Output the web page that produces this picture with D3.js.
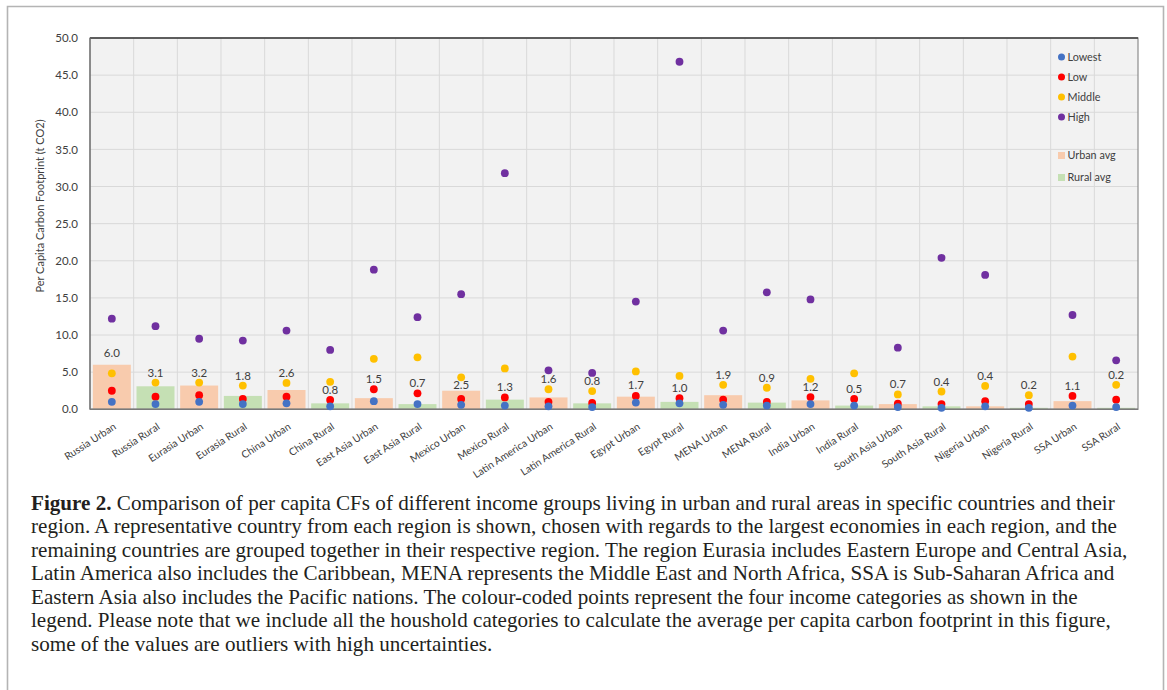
<!DOCTYPE html>
<html>
<head>
<meta charset="utf-8">
<script src="https://cdn.jsdelivr.net/npm/d3@7"></script>
<style>
  html, body { margin: 0; padding: 0; background: #ffffff; }
  svg { display: block; }
  .chart-text { font-family: Lato, "Open Sans", sans-serif; fill: #404040; }
  .caption { font-family: "Liberation Serif", "Times New Roman", serif; fill: #231f20; }
</style>
</head>
<body>
<svg id="fig" width="1167" height="690"></svg>
<script>
// Regions split into urban / rural households
const categories = [
  "Russia Urban", "Russia Rural", "Eurasia Urban", "Eurasia Rural",
  "China Urban", "China Rural", "East Asia Urban", "East Asia Rural",
  "Mexico Urban", "Mexico Rural", "Latin America Urban", "Latin America Rural",
  "Egypt Urban", "Egypt Rural", "MENA Urban", "MENA Rural",
  "India Urban", "India Rural", "South Asia Urban", "South Asia Rural",
  "Nigeria Urban", "Nigeria Rural", "SSA Urban", "SSA Rural"
];

// Average per capita carbon footprint (t CO2)
const avgValues = [6.0, 3.1, 3.2, 1.8, 2.6, 0.8, 1.5, 0.7, 2.5, 1.3, 1.6, 0.8,
                   1.7, 1.0, 1.9, 0.9, 1.2, 0.5, 0.7, 0.4, 0.4, 0.2, 1.1, 0.2];

// Per capita carbon footprint by income group (t CO2)
const lowestValues = [1.0, 0.7, 1.0, 0.7, 0.8, 0.4, 1.1, 0.7, 0.6, 0.5, 0.4, 0.3,
                      0.9, 0.8, 0.6, 0.5, 0.7, 0.5, 0.3, 0.2, 0.4, 0.2, 0.5, 0.3];
const lowValues = [2.5, 1.7, 1.9, 1.4, 1.7, 1.25, 2.7, 2.15, 1.4, 1.6, 1.0, 0.85,
                   1.8, 1.5, 1.3, 1.0, 1.65, 1.4, 0.75, 0.7, 1.1, 0.7, 1.8, 1.3];
const middleValues = [4.85, 3.6, 3.6, 3.2, 3.55, 3.7, 6.8, 7.0, 4.3, 5.5, 2.7, 2.45,
                      5.1, 4.5, 3.3, 2.9, 4.1, 4.85, 2.0, 2.4, 3.15, 1.9, 7.1, 3.3];
const highValues = [12.2, 11.2, 9.5, 9.25, 10.6, 8.0, 18.8, 12.4, 15.5, 31.8, 5.25, 4.9,
                    14.5, 46.8, 10.6, 15.75, 14.8, null, 8.3, 20.4, 18.1, null, 12.7, 6.6];

const yTicks = [0, 5, 10, 15, 20, 25, 30, 35, 40, 45, 50];

const incomeGroups = ["Lowest", "Low", "Middle", "High"];
const incomeSeries = { Lowest: lowestValues, Low: lowValues, Middle: middleValues, High: highValues };
const incomeColor = { Lowest: "#4472C4", Low: "#FF0000", Middle: "#FFC000", High: "#7030A0" };
const areaColor = { Urban: "#F8CBAD", Rural: "#C5E0B4" };

const captionLines = [
  " Comparison of per capita CFs of different income groups living in urban and rural areas in specific countries and their",
  "region. A representative country from each region is shown, chosen with regards to the largest economies in each region, and the",
  "remaining countries are grouped together in their respective region. The region Eurasia includes Eastern Europe and Central Asia,",
  "Latin America also includes the Caribbean, MENA represents the Middle East and North Africa, SSA is Sub-Saharan Africa and",
  "Eastern Asia also includes the Pacific nations. The colour-coded points represent the four income categories as shown in the",
  "legend. Please note that we include all the houshold categories to calculate the average per capita carbon footprint in this figure,",
  "some of the values are outliers with high uncertainties."
];

const svg = d3.select("#fig");

// Figure frame
svg.append("path")
  .attr("d", "M7.5,690 V6.5 H1163.5 V690")
  .attr("fill", "none").attr("stroke", "#b4b4b4").attr("stroke-width", 1.6);

const plot = { left: 90, right: 1138, top: 38, bottom: 409.3 };

const x = d3.scaleBand().domain(categories)
  .range([plot.left, plot.right]).paddingInner(0.13).paddingOuter(0.065);
const y = d3.scaleLinear().domain([0, 50]).range([plot.bottom, plot.top]);

const rows = categories.map((c, i) => ({
  name: c, i,
  area: c.endsWith("Urban") ? "Urban" : "Rural",
  avg: avgValues[i]
}));

// Plot background
svg.append("rect")
  .attr("x", plot.left).attr("y", plot.top)
  .attr("width", plot.right - plot.left).attr("height", plot.bottom - plot.top)
  .attr("fill", "#F2F2F2");

// Gridlines
const grid = svg.append("g").attr("stroke", "#D9D9D9").attr("stroke-width", 1);
grid.selectAll("line.h").data(yTicks.slice(1, -1)).join("line")
  .attr("x1", plot.left).attr("x2", plot.right)
  .attr("y1", d => y(d)).attr("y2", d => y(d));
grid.selectAll("line.v").data(d3.range(1, categories.length)).join("line")
  .attr("x1", d => plot.left + d * x.step()).attr("x2", d => plot.left + d * x.step())
  .attr("y1", plot.top).attr("y2", plot.bottom);

// Average bars
svg.append("g").selectAll("rect").data(rows).join("rect")
  .attr("x", d => x(d.name)).attr("width", x.bandwidth())
  .attr("y", d => y(d.avg)).attr("height", d => y(0) - y(d.avg))
  .attr("fill", d => areaColor[d.area]);

// Frame of the plot area
svg.append("rect")
  .attr("x", plot.left).attr("y", plot.top)
  .attr("width", plot.right - plot.left).attr("height", plot.bottom - plot.top)
  .attr("fill", "none").attr("stroke", "#8c8c8c").attr("stroke-width", 1.2);
svg.append("line")
  .attr("x1", plot.left).attr("x2", plot.right).attr("y1", plot.top).attr("y2", plot.top)
  .attr("stroke", "#404040").attr("stroke-width", 1.5);
svg.append("line")
  .attr("x1", plot.left).attr("x2", plot.left).attr("y1", plot.top).attr("y2", plot.bottom)
  .attr("stroke", "#6e6e6e").attr("stroke-width", 1.2);
svg.append("line")
  .attr("x1", plot.left).attr("x2", plot.right).attr("y1", plot.bottom).attr("y2", plot.bottom)
  .attr("stroke", "#7a7a7a").attr("stroke-width", 1.5);

// Income group points (highest drawn first, lowest on top)
const dotR = 3.9;
const dotsG = svg.append("g");
incomeGroups.slice().reverse().forEach(g => {
  const pts = rows.filter(d => incomeSeries[g][d.i] != null)
    .map(d => ({ name: d.name, v: incomeSeries[g][d.i] }));
  dotsG.append("g").selectAll("circle").data(pts).join("circle")
    .attr("cx", d => x(d.name) + x.bandwidth() / 2)
    .attr("cy", d => y(d.v))
    .attr("r", dotR)
    .attr("fill", incomeColor[g]);
});

// Average value labels: just above the bar, moved to the nearest spot clear of the points
function labelCentre(d) {
  const top = y(d.avg);
  const c0 = top - 12;
  const clearAbove = 10, clearBelow = 8;
  const ys = incomeGroups.map(g => incomeSeries[g][d.i]).filter(v => v != null).map(v => y(v));
  const isFree = c => c <= top - 4 &&
    ys.every(py => c <= py - clearAbove + 1e-6 || c >= py + clearBelow - 1e-6);
  if (isFree(c0)) return c0;
  const candidates = ys.flatMap(py => [py - clearAbove, py + clearBelow]).filter(isFree);
  return d3.least(candidates, c => Math.abs(c - c0));
}
svg.append("g").selectAll("text").data(rows).join("text")
  .attr("class", "chart-text")
  .attr("x", d => x(d.name) + x.bandwidth() / 2)
  .attr("y", d => labelCentre(d))
  .attr("dy", "0.35em")
  .attr("text-anchor", "middle")
  .style("font-size", "11.5px")
  .text(d => d3.format(".1f")(d.avg));

// Y axis
const yAxis = svg.append("g")
  .attr("transform", `translate(${plot.left},0)`)
  .call(d3.axisLeft(y).tickValues(yTicks).tickFormat(d3.format(".1f")).tickSize(0).tickPadding(12));
yAxis.select(".domain").remove();
yAxis.selectAll("text").attr("class", "chart-text").style("font-size", "11.5px").attr("fill", null);

svg.append("text")
  .attr("class", "chart-text")
  .attr("transform", `translate(44,206) rotate(-90)`)
  .attr("text-anchor", "middle")
  .style("font-size", "11px")
  .text("Per Capita Carbon Footprint (t CO2)");

// X axis labels
const xAxis = svg.append("g")
  .attr("transform", `translate(0,${plot.bottom})`)
  .call(d3.axisBottom(x).tickSize(0).tickPadding(0));
xAxis.select(".domain").remove();
xAxis.selectAll("text")
  .attr("class", "chart-text").attr("fill", null)
  .style("font-size", "10.3px")
  .attr("text-anchor", "end")
  .attr("y", 0).attr("dy", "0.35em")
  .attr("transform", "translate(3,16) rotate(-33)");

// Legend
const legend = svg.append("g").attr("class", "legend");
incomeGroups.forEach((g, k) => {
  const cy = 57 + k * 20;
  legend.append("circle").attr("cx", 1061.5).attr("cy", cy).attr("r", 3.5).attr("fill", incomeColor[g]);
  legend.append("text").attr("class", "chart-text").attr("x", 1067.5).attr("y", cy)
    .attr("dy", "0.35em").style("font-size", "10.8px").text(g);
});
[["Urban", "Urban avg", 155.5], ["Rural", "Rural avg", 177.5]].forEach(([a, label, cy]) => {
  legend.append("rect").attr("x", 1058).attr("y", cy - 3.5).attr("width", 7).attr("height", 7)
    .attr("fill", areaColor[a]);
  legend.append("text").attr("class", "chart-text").attr("x", 1067.5).attr("y", cy)
    .attr("dy", "0.35em").style("font-size", "10.8px").text(label);
});

// Caption
const cap = svg.append("text").attr("class", "caption").style("font-size", "18px");
const baseY = 509.5, lineGap = 23.5;
captionLines.forEach((line, k) => {
  if (k === 0) {
    cap.append("tspan").attr("x", 31).attr("y", baseY).style("font-weight", "bold").text("Figure 2.");
    cap.append("tspan").text(line);
  } else {
    cap.append("tspan").attr("x", 31).attr("y", baseY + k * lineGap).text(line);
  }
});
// Fit the type size so the full caption lines span the text block
const probe = svg.append("text").attr("class", "caption").style("font-size", "18px").text(captionLines[2]);
const w = probe.node().getComputedTextLength();
probe.remove();
cap.style("font-size", (18 * 1097 / w).toFixed(2) + "px");
</script>
</body>
</html>
